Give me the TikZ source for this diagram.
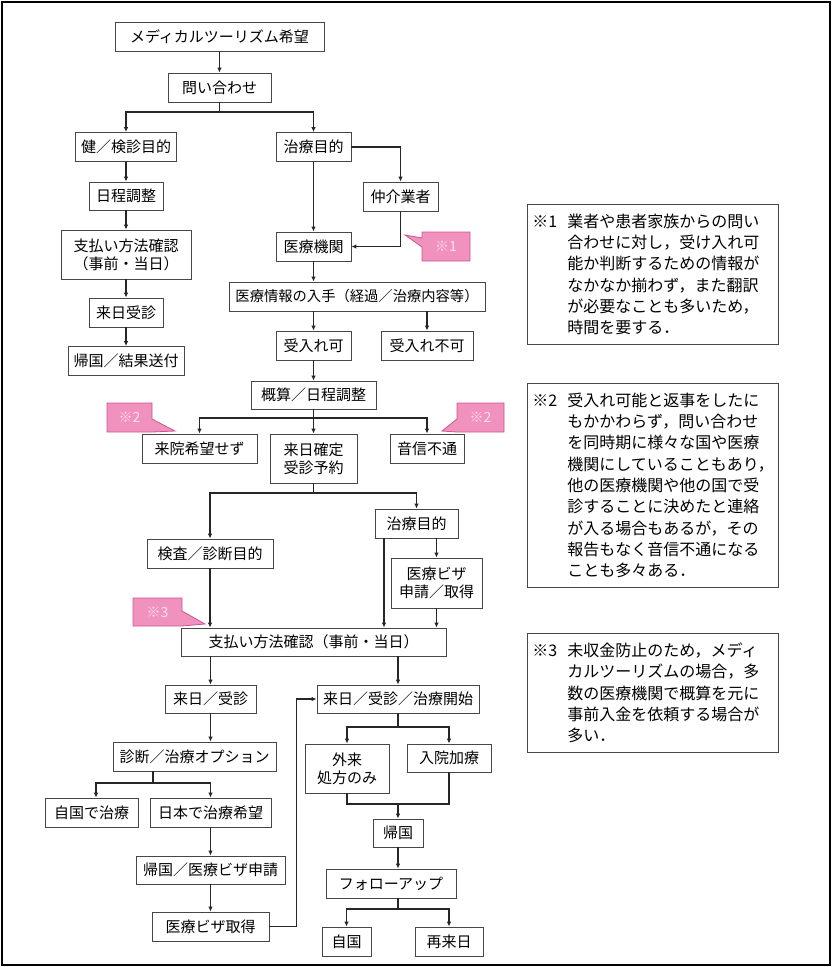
\documentclass[tikz,border=0pt]{standalone}
\usepackage{fontspec}
\setmainfont{Noto Sans CJK JP}
\usepackage{tikz}
\usetikzlibrary{positioning,arrows.meta,calc}
\definecolor{boxline}{RGB}{70,70,70}
\definecolor{pinkfill}{RGB}{240,145,190}
\definecolor{pinkline}{RGB}{205,85,145}
\definecolor{pinktext}{RGB}{255,225,238}
\newcommand{\notemark}[1]{\makebox[35pt][l]{#1}}
\newcommand{\noteind}{\hspace*{35pt}}

\begin{document}
\begin{tikzpicture}[x=1pt,y=-1pt,
    box/.style={draw=boxline, line width=0.8pt, fill=white, inner sep=0pt,
      minimum height=29pt, align=center, font=\fontsize{15}{18}\selectfont},
    notebox/.style={draw=boxline, line width=0.9pt, anchor=north west, inner xsep=5pt,
      text width=241pt, align=left, font=\fontsize{16}{21.3}\selectfont},
    arr/.style={line width=1.1pt, draw=black!85, -{Latex[length=5pt,width=4.5pt]}},
    link/.style={line width=1.1pt, draw=black!85},
    callout/.style={draw=pinkline, fill=pinkfill, line width=0.8pt},
    ctext/.style={text=pinktext, font=\fontsize{14}{16}\selectfont}]
    \useasboundingbox (0,0) rectangle (831,967);
    \draw[line width=2pt] (1.5,2) rectangle (829.5,965);

    % inquiry
    \node[box, minimum width=209pt] (wish) at (219.5,36.5) {メディカルツーリズム希望};
    \node[box, minimum width=103pt] (ask) at (219.5,87.5) {問い合わせ};
    \node[box, minimum width=101pt] (checkup) at (126,147) {健／検診目的};
    \node[box, minimum width=75pt] (treat) at (313.5,147) {治療目的};

    % check-up route
    \node[box, minimum width=74pt, minimum height=28pt] (sched) at (126,196) {日程調整};
    \node[box, minimum width=130pt, minimum height=49pt] (payA) at (126,254.5) {支払い方法確認\\（事前・当日）};
    \node[box, minimum width=74pt] (visitA) at (126,312.5) {来日受診};
    \node[box, minimum width=116pt] (result) at (126,361) {帰国／結果送付};

    % treatment route
    \node[box, minimum width=75pt] (agent) at (400.5,196.5) {仲介業者};
    \node[box, minimum width=75pt] (hosp) at (313.5,246.5) {医療機関};
    \node[box, minimum width=256pt, font=\fontsize{14.3}{17}\selectfont] (info) at (357,296.5) {医療情報の入手（経過／治療内容等）};
    \node[box, minimum width=75pt] (ok) at (313.5,345.5) {受入れ可};
    \node[box, minimum width=92pt] (ng) at (427,345.5) {受入れ不可};
    \node[box, minimum width=125pt, minimum height=28pt] (estim) at (313.5,395) {概算／日程調整};
    \node[box, minimum width=115pt] (nowish) at (199.5,448.5) {来院希望せず};
    \node[box, minimum width=87pt, minimum height=49pt] (fix) at (313.5,458.5) {来日確定\\受診予約};
    \node[box, minimum width=74pt] (silent) at (427,448.5) {音信不通};
    \node[box, minimum width=83pt] (treatB) at (416.5,523.5) {治療目的};
    \node[box, minimum width=126pt] (exam) at (210,553.5) {検査／診断目的};
    \node[box, minimum width=91pt, minimum height=50pt] (visa) at (436.5,583) {医療ビザ\\申請／取得};
    \node[box, minimum width=265pt, minimum height=28pt] (payB) at (313.5,642) {支払い方法確認（事前・当日）};

    % after payment
    \node[box, minimum width=91pt, minimum height=28pt] (visitB) at (210.5,699) {来日／受診};
    \node[box, minimum width=162pt, minimum height=28pt] (start) at (398,699) {来日／受診／治療開始};
    \node[box, minimum width=163pt] (option) at (194.5,756.5) {診断／治療オプション};
    \node[box, minimum width=93pt] (homecare) at (91.5,812.5) {自国で治療};
    \node[box, minimum width=121pt] (japan) at (210.5,812.5) {日本で治療希望};
    \node[box, minimum width=149pt, minimum height=28pt] (visaapp) at (210.5,870) {帰国／医療ビザ申請};
    \node[box, minimum width=117pt] (visaget) at (210.5,926.5) {医療ビザ取得};
    \node[box, minimum width=84pt, minimum height=49pt] (outpt) at (347,768.5) {外来\\処方のみ};
    \node[box, minimum width=84pt, minimum height=28pt] (inpt) at (449,758) {入院加療};
    \node[box, minimum width=50pt, minimum height=28pt] (home) at (398,833) {帰国};
    \node[box, minimum width=130pt] (follow) at (391,883.5) {フォローアップ};
    \node[box, minimum width=49pt] (back) at (346.5,941.5) {自国};
    \node[box, minimum width=68pt] (again) at (449,941.5) {再来日};

    % junctions
    \coordinate (j1) at (219.5,112);
    \coordinate (j2) at (313.5,418);
    \coordinate (j3) at (313.5,493);
    \coordinate (tb) at (384,538);
    \coordinate (j5) at (153,783);
    \coordinate (j6) at (398,727);
    \coordinate (j7) at (398,804);
    \coordinate (j8) at (398,909);

    % connectors, upper part
    \draw[arr] (wish) -- (ask);
    \draw[arr] (ask) -- (j1) -| (checkup);
    \draw[arr] (j1) -| (treat);
    \draw[arr] (checkup) -- (sched);
    \draw[arr] (sched) -- (payA);
    \draw[arr] (payA) -- (visitA);
    \draw[arr] (visitA) -- (result);
    \draw[arr] (treat) -- (hosp);
    \draw[arr] (treat) -| (agent);
    \draw[arr] (agent) |- (hosp);
    \draw[arr] (hosp) -- (hosp |- info.north);
    \draw[arr] (info.south -| ok) -- (ok);
    \draw[arr] (info.south -| ng) -- (ng);
    \draw[arr] (ok) -- (estim);
    \draw[arr] (estim) -- (j2) -| (nowish);
    \draw[arr] (j2) -- (fix);
    \draw[arr] (j2) -| (silent);

    % connectors, middle part
    \draw[arr] (fix) -- (j3) -| (exam);
    \draw[arr] (j3) -| (treatB);
    \draw[arr] (visa |- treatB.south) -- (visa);
    \draw[arr] (treatB.south -| tb) -- (payB.north -| tb);
    \draw[arr] (exam) -- (exam |- payB.north);
    \draw[arr] (visa) -- (visa |- payB.north);
    \draw[arr] (payB.south -| visitB) -- (visitB);
    \draw[arr] (payB.south -| start) -- (start);

    % connectors, lower part
    \draw[arr] (visitB) -- (visitB |- option.north);
    \draw[arr] (option.south -| j5) -- (j5) -| ([xshift=4.5pt]homecare.north);
    \draw[arr] (j5) -| (japan);
    \draw[arr] (japan) -- (visaapp);
    \draw[arr] (visaapp) -- (visaget);
    \draw[arr] (visaget.east) -- ++(27,0) |- (start);
    \draw[arr] (start) -- (j6) -| (outpt);
    \draw[arr] (j6) -| (inpt);
    \draw[link] (outpt) |- (j7) -| (inpt);
    \draw[arr] (j7) -- (home);
    \draw[arr] (home) -- (home |- follow.north);
    \draw[arr] (follow.south -| j8) -- (j8) -| (back);
    \draw[arr] (j8) -| (again);

    % pink callouts
    \draw[callout] (422,232) -- (470,232) -- (470,261) -- (422,261) -- (422,247) -- (405,235) -- (422,238) -- cycle;
    \node[ctext] (c1) at (446,246.5) {※1};
    \draw[callout] (107,403) -- (152,403) -- (152,419) -- (175,431) -- (152,432) -- (107,432) -- cycle;
    \node[ctext] (c2a) at (129.5,417.5) {※2};
    \draw[callout] (457,403) -- (504,403) -- (504,432) -- (457,432) -- (442,431) -- (457,419) -- cycle;
    \node[ctext] (c2b) at (480.5,417.5) {※2};
    \draw[callout] (133,598) -- (182,598) -- (182,611) -- (205,624) -- (182,626) -- (133,626) -- cycle;
    \node[ctext] (c3) at (157.5,612) {※3};

    % notes
    \node[notebox, minimum height=140pt] (note1) at (527,204) {%
      \notemark{※1}業者や患者家族からの問い\\
      \noteind 合わせに対し，受け入れ可\\
      \noteind 能か判断するための情報が\\
      \noteind なかなか揃わず，また翻訳\\
      \noteind が必要なことも多いため，\\
      \noteind 時間を要する．};
    \node[notebox, minimum height=204pt] (note2) at (527,383) {%
      \notemark{※2}受入れ可能と返事をしたに\\
      \noteind もかかわらず，問い合わせ\\
      \noteind を同時期に様々な国や医療\\
      \noteind 機関にしていることもあり，\\
      \noteind 他の医療機関や他の国で受\\
      \noteind 診することに決めたと連絡\\
      \noteind が入る場合もあるが，その\\
      \noteind 報告もなく音信不通になる\\
      \noteind ことも多々ある．};
    \node[notebox, minimum height=119pt] (note3) at (527,633) {%
      \notemark{※3}未収金防止のため，メディ\\
      \noteind カルツーリズムの場合，多\\
      \noteind 数の医療機関で概算を元に\\
      \noteind 事前入金を依頼する場合が\\
      \noteind 多い．};
\end{tikzpicture}
\end{document}
